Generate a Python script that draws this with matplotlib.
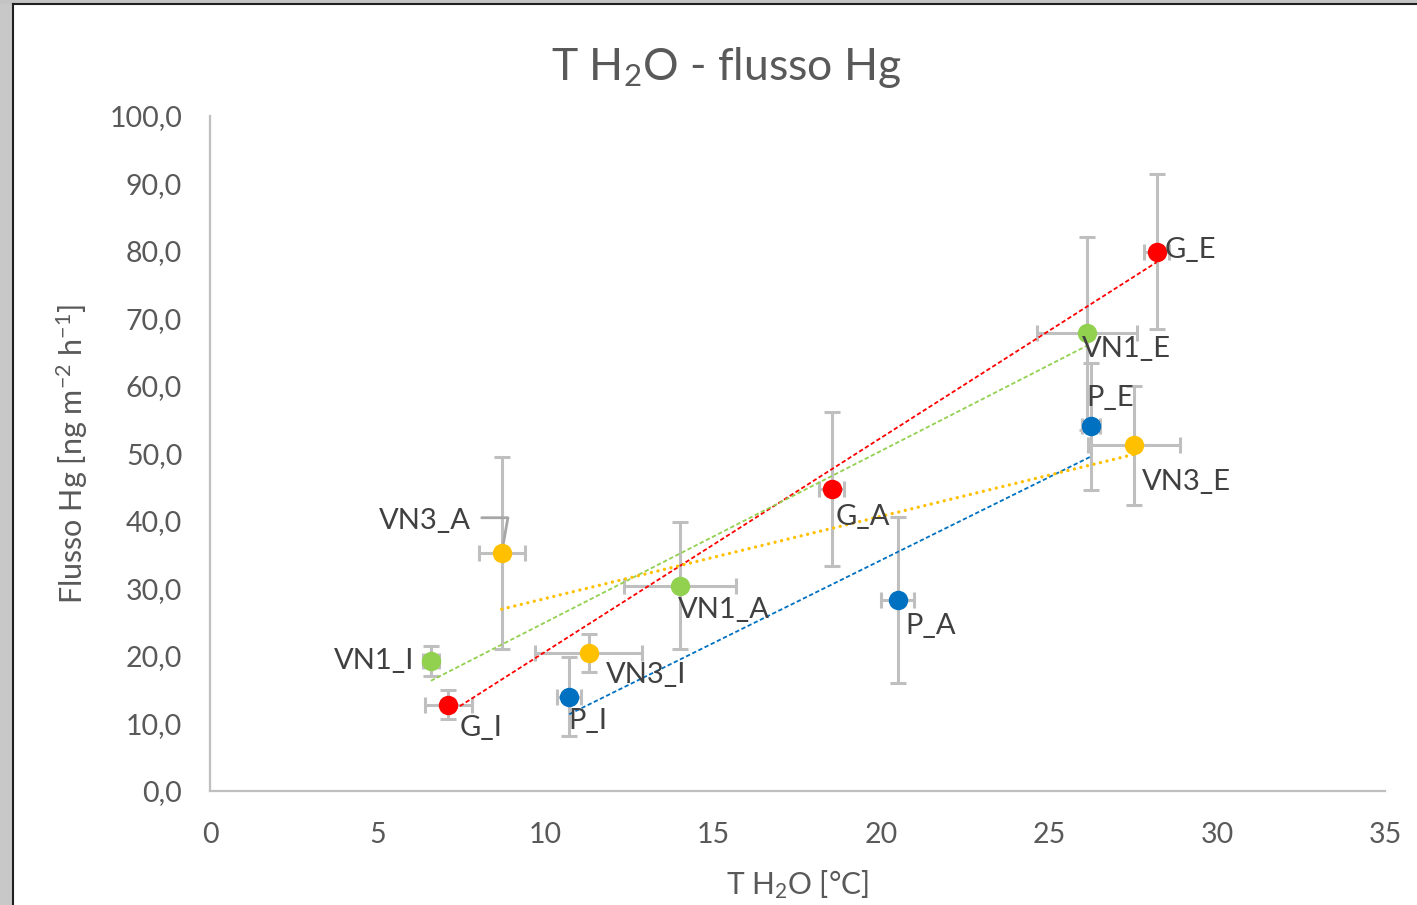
import numpy as np
import matplotlib
matplotlib.use("Agg")
import matplotlib.pyplot as plt
from matplotlib.patches import Rectangle
from matplotlib.lines import Line2D
from matplotlib.ticker import FuncFormatter, MultipleLocator

plt.rcParams['font.family'] = ['Lato', 'DejaVu Sans']
plt.rcParams['mathtext.fontset'] = 'custom'
plt.rcParams['mathtext.rm'] = 'Lato'
plt.rcParams['mathtext.default'] = 'regular'

# data: one list per series (order: _I, _A, _E)
g_x = [7.10, 18.52, 28.20]
g_y = [12.8, 44.8, 79.9]
g_xerr = [0.70, 0.38, 0.38]
g_yerr = [2.2, 11.4, 11.5]

p_x = [10.70, 20.48, 26.23]
p_y = [14.0, 28.3, 54.0]
p_xerr = [0.36, 0.50, 0.27]
p_yerr = [5.8, 12.3, 9.4]

vn1_x = [6.58, 14.00, 26.13]
vn1_y = [19.3, 30.4, 67.8]
vn1_xerr = [0.25, 1.68, 1.49]
vn1_yerr = [2.2, 9.4, 14.3]

vn3_x = [11.28, 8.69, 27.52]
vn3_y = [20.4, 35.3, 51.2]
vn3_xerr = [1.60, 0.69, 1.36]
vn3_yerr = [2.8, 14.2, 8.8]

g_labels = ['G_I', 'G_A', 'G_E']
p_labels = ['P_I', 'P_A', 'P_E']
vn1_labels = ['VN1_I', 'VN1_A', 'VN1_E']
vn3_labels = ['VN3_I', 'VN3_A', 'VN3_E']

# label offsets in pixels (text centre relative to the point)
g_off = [(33, -23), (31, -28), (34, 2)]
p_off = [(19, -24), (33, -26), (20, 29)]
vn1_off = [(-57, 0), (44, -24), (39, -16)]
vn3_off = [(57, -22), (-77, 32), (53, -37)]

dash = (0, (2.4, 1.4))
dots = (0, (0.01, 2.0))
series = [
    (g_x, g_y, g_xerr, g_yerr, g_labels, g_off, '#FF0000', dash, 1.3, 'butt'),
    (vn1_x, vn1_y, vn1_xerr, vn1_yerr, vn1_labels, vn1_off, '#92D050', dash, 1.3, 'butt'),
    (p_x, p_y, p_xerr, p_yerr, p_labels, p_off, '#0070C0', dash, 1.3, 'butt'),
    (vn3_x, vn3_y, vn3_xerr, vn3_yerr, vn3_labels, vn3_off, '#FFC000', dots, 2.4, 'round'),
]

W, H = 1417, 905
fig = plt.figure(figsize=(W / 100, H / 100), dpi=100)
fig.patch.set_facecolor('white')

# screenshot frame
fig.patches.append(Rectangle((0, 0), 12 / W, 1, transform=fig.transFigure,
                             facecolor='#C8C8C8', edgecolor='none', zorder=0))
fig.patches.append(Rectangle((0, 1 - 4 / H), 1, 4 / H, transform=fig.transFigure,
                             facecolor='#C4C4C4', edgecolor='none', zorder=0))
fig.lines.append(Line2D([12.5 / W, 12.5 / W], [0, 1 - 4.5 / H], transform=fig.transFigure,
                        color='#202020', lw=1.5))
fig.lines.append(Line2D([12.5 / W, 1], [1 - 4.5 / H, 1 - 4.5 / H], transform=fig.transFigure,
                        color='#202020', lw=1.5))

ax = fig.add_axes([210 / W, 114 / H, 1175 / W, 675 / H])

for xs, ys, xe, ye, labs, offs, col, ls, lw, cap in series:
    ax.errorbar(xs, ys, xerr=xe, yerr=ye, fmt='none', ecolor='#BFBFBF',
                elinewidth=2.2, capsize=5.5, capthick=2.2, zorder=2)
    # linear trendline over the series range
    k, b = np.polyfit(xs, ys, 1)
    tx = np.array([min(xs), max(xs)])
    ax.plot(tx, k * tx + b, color=col, linestyle=ls, linewidth=lw,
            dash_capstyle=cap, zorder=3)
    ax.plot(xs, ys, 'o', color=col, markersize=14, markeredgewidth=0, zorder=4)
    for x, y, lab, off in zip(xs, ys, labs, offs):
        ax.annotate(lab, (x, y), xytext=off, textcoords='offset pixels',
                    ha='center', va='center', fontsize=21, color='#404040', zorder=5)

# leader line for VN3_A
ax.annotate('', xy=(vn3_x[1], vn3_y[1]), xytext=(-20, 35), textcoords='offset pixels',
            arrowprops=dict(arrowstyle='-', color='#A6A6A6', lw=2.0,
                            connectionstyle='angle,angleA=0,angleB=80,rad=0',
                            shrinkA=0, shrinkB=7), zorder=2)

ax.set_xlim(0, 35)
ax.set_ylim(0, 100)
ax.xaxis.set_major_locator(MultipleLocator(5))
ax.yaxis.set_major_locator(MultipleLocator(10))
ax.yaxis.set_major_formatter(FuncFormatter(lambda v, p: f'{v:.1f}'.replace('.', ',')))
ax.tick_params(length=0, labelsize=20.5, labelcolor='#595959')
ax.tick_params(axis='x', pad=22)
ax.tick_params(axis='y', pad=20)

for s in ['top', 'right']:
    ax.spines[s].set_visible(False)
for s in ['left', 'bottom']:
    ax.spines[s].set_color('#BFBFBF')
    ax.spines[s].set_linewidth(1.6)

fig.text(726 / W, 1 - 67 / H, 'T H$_2$O - flusso Hg', fontsize=32, color='#595959',
         ha='center', va='center')
ax.set_xlabel('T H$_2$O [°C]', fontsize=21.5, color='#595959')
ax.xaxis.set_label_coords(0.5, -(868 - 791) / 675)
ax.set_ylabel('Flusso Hg [ng m$^{-2}$ h$^{-1}$]', fontsize=22, color='#595959')
ax.yaxis.set_label_coords(-(210 - 90) / 1175, 0.5)

fig.savefig('out.png', dpi=100)
